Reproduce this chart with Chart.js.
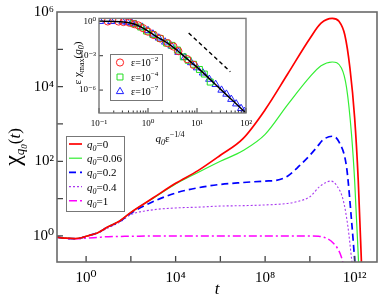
<!DOCTYPE html>
<html><head><meta charset="utf-8">
<script src="https://cdn.jsdelivr.net/npm/chart.js@4.4.1/dist/chart.umd.min.js"></script>
<style>
html,body{margin:0;padding:0;background:#fff;overflow:hidden;}
#wrap{position:relative;width:388px;height:300px;background:#fff;}
canvas{position:absolute;display:block;}
#main{left:0;top:0;width:388px;height:300px;}
#inset{left:60px;top:10px;width:198px;height:140px;}
</style></head><body>
<div id="wrap"><canvas id="main" width="388" height="300"></canvas><canvas id="inset" width="198" height="140"></canvas></div>
<script>
// ---------------- data (main panel) ----------------
const q0Values = ['0', '0.06', '0.2', '0.4', '1'];

const tQ0   = [0.05, 0.126, 0.316, 0.631, 1, 3.16, 10, 31.6, 100, 1e3, 1e4, 1e5, 1e6, 1e7, 1e8, 1e9, 1e10, 3.16e10, 1e11, 2e11, 3.63e11, 6.17e11, 1e12, 1.45e12, 2.1e12];
const chiQ0 = [0.923, 0.871, 0.851, 0.891, 0.977, 1.20, 1.78, 2.51, 4.27, 10.5, 25.7, 56.2, 145, 398, 2400, 21400, 195000, 501000, 676000, 562000, 245000, 31600, 1480, 30.9, 0.1];

const tQ006   = [0.05, 0.126, 0.316, 0.631, 1, 3.16, 10, 31.6, 100, 1e3, 1e4, 1e5, 1e6, 1e7, 1e8, 1e9, 1e10, 3.16e10, 1e11, 2.57e11, 4.37e11, 7.24e11, 1e12, 1.58e12];
const chiQ006 = [0.923, 0.871, 0.851, 0.891, 0.977, 1.20, 1.78, 2.51, 4.27, 10.2, 24.5, 50.1, 100, 191, 525, 3240, 18200, 36300, 45700, 31600, 9330, 537, 30.9, 0.1];

const tQ02   = [0.05, 0.126, 0.316, 0.631, 1, 3.16, 10, 31.6, 100, 1e3, 1e4, 1e5, 1e6, 1e7, 1e8, 3.16e8, 1e9, 3.55e9, 1e10, 2e10, 3.98e10, 1e11, 2e11, 4.37e11, 7.24e11, 1.12e12];
const chiQ02 = [0.923, 0.871, 0.851, 0.891, 0.977, 1.20, 1.78, 2.45, 4.07, 8.32, 14.1, 19.5, 24.0, 26.9, 29.5, 30.9, 39.8, 77.6, 145, 234, 380, 468, 331, 69.2, 2.69, 0.1];

const tQ04   = [0.05, 0.126, 0.316, 0.631, 1, 3.16, 10, 31.6, 100, 1e3, 1e4, 1e5, 1e6, 1e7, 1e8, 1e9, 3.16e9, 1e10, 2.82e10, 8.71e10, 1.58e11, 3.09e11, 5.01e11, 7.41e11, 8.91e11];
const chiQ04 = [0.923, 0.871, 0.851, 0.891, 0.977, 1.18, 1.66, 2.34, 3.72, 5.01, 5.62, 5.89, 6.31, 6.46, 6.76, 7.41, 8.51, 11.2, 21.4, 29.5, 22.4, 9.12, 1.78, 0.229, 0.1];

const tQ1   = [0.05, 0.2, 0.5, 1, 3.16, 10, 100, 1e4, 1e6, 1e8, 1e10, 2.51e10, 6.31e10, 1.1e11, 1.78e11, 2.51e11, 3.55e11];
const chiQ1 = [0.923, 0.84, 0.84, 0.871, 0.912, 0.955, 0.977, 1, 1, 1, 1, 0.977, 0.832, 0.646, 0.447, 0.282, 0.126];

const mainXTicks  = [1, 1e2, 1e4, 1e6, 1e8, 1e10, 1e12];
const mainXLabels = [1, 1e4, 1e8, 1e12];
const mainYTicks  = [1, 1e1, 1e2, 1e3, 1e4, 1e5];
const mainYLabels = [1, 1e2, 1e4, 1e6];

// ---------------- data (inset) ----------------
const epsExponents = ['−2', '−4', '−7'];
const masterX = [0.1, 0.2, 0.316, 0.501, 0.708, 1, 1.51, 2, 2.82, 3.98, 5.62, 7.94, 10, 17.8, 31.6, 56.2, 100];
const masterY = [1, 0.977, 0.891, 0.603, 0.331, 0.141, 0.0447, 0.0224, 0.00891, 0.00282, 7.94e-4, 2.24e-4, 1e-4, 1e-5, 1e-6, 1e-7, 1e-8];
const slopeX = [6.76, 47.9];
const slopeY = [0.0955, 3.98e-5];
const eps2X = [0.151, 0.251, 0.316, 0.417, 0.525, 0.631, 0.794, 1.0, 1.32, 1.78, 2.51, 3.31, 4.17, 6.31, 8.51];
const eps2Y = [0.977, 0.955, 0.871, 0.759, 0.562, 0.447, 0.251, 0.126, 0.0631, 0.0316, 0.0126, 0.00631, 0.00251, 5.01e-4, 1.58e-4];
const eps4X = [0.501, 0.708, 0.933, 1.26, 1.78, 2.4, 3.09, 3.98, 5.25, 6.61, 8.51, 11.2, 14.1, 18.6];
const eps4Y = [0.631, 0.316, 0.141, 0.0708, 0.0316, 0.0126, 0.00794, 0.00316, 7.94e-4, 3.98e-4, 1.78e-4, 6.31e-5, 2.51e-5, 5.01e-6];
const eps7X = [0.105, 0.178, 0.302, 0.38, 0.468, 0.562, 0.759, 1.0, 1.26, 1.66, 2.24, 3.02, 4.17, 5.62, 7.59, 10, 13.2, 17.8, 24, 31.6, 39.8, 50.1, 63.1, 79.4, 93.3];
const eps7Y = [1.0, 0.977, 0.933, 0.832, 0.708, 0.562, 0.316, 0.158, 0.0794, 0.0355, 0.0158, 0.00708, 0.002, 7.08e-4, 2.51e-4, 8.91e-5, 3.16e-5, 8.91e-6, 3.16e-6, 1e-6, 4.47e-7, 1.58e-7, 6.31e-8, 2.51e-8, 1.41e-8];
const insetXTicks = [0.1, 1, 10, 100];
const insetYTicks = [1, 1e-3, 1e-6];

// ---------------- helpers ----------------
const SERIF = '"Liberation Serif", "Times New Roman", "DejaVu Serif", serif';
const SUP = {'0':'⁰','1':'¹','2':'²','3':'³','4':'⁴','5':'⁵','6':'⁶','7':'⁷','8':'⁸','9':'⁹','-':'⁻'};
const expLabel = v => '10' + String(Math.round(Math.log10(v))).split('').map(c => SUP[c] || c).join('');
const pts = (xs, ys) => xs.map((x, i) => ({x: x, y: ys[i]}));

function drawRich(ctx, parts, x, y, center) {
  let w = 0;
  for (const p of parts) { ctx.font = p[1]; w += ctx.measureText(p[0]).width; }
  let cx = center ? x - w / 2 : x;
  for (const p of parts) { ctx.font = p[1]; ctx.fillText(p[0], cx, y + (p[2] || 0)); cx += ctx.measureText(p[0]).width; }
}

// ---------------- main chart ----------------
const mainSeries = [
  {q0: q0Values[0], t: tQ0,   chi: chiQ0,   color: '#ff0000', width: 1.7, dash: []},
  {q0: q0Values[1], t: tQ006, chi: chiQ006, color: '#33ee33', width: 1.2, dash: []},
  {q0: q0Values[2], t: tQ02,  chi: chiQ02,  color: '#0000ff', width: 1.7, dash: [7, 4]},
  {q0: q0Values[3], t: tQ04,  chi: chiQ04,  color: '#a838f0', width: 1.1, dash: [2, 2]},
  {q0: q0Values[4], t: tQ1,   chi: chiQ1,   color: '#ff00ff', width: 1.5, dash: [8, 3, 2, 3]}
];

const mainDecor = {
  id: 'mainDecor',
  afterDraw(chart) {
    const {ctx, chartArea: a, scales: {x, y}} = chart;
    ctx.save();
    ctx.strokeStyle = '#444'; ctx.lineWidth = 1.3; ctx.setLineDash([]);
    ctx.beginPath();
    for (const v of mainXTicks) { const px = x.getPixelForValue(v); ctx.moveTo(px, a.bottom); ctx.lineTo(px, a.bottom - 6); }
    for (const v of mainYTicks) { const py = y.getPixelForValue(v); ctx.moveTo(a.left, py); ctx.lineTo(a.left + 6, py); }
    ctx.stroke();
    ctx.strokeStyle = '#6a6a6a'; ctx.lineWidth = 1.6;
    ctx.strokeRect(a.left, a.top, a.right - a.left, a.bottom - a.top);
    ctx.fillStyle = '#000'; ctx.textBaseline = 'alphabetic'; ctx.textAlign = 'left';
    ctx.save();
    ctx.translate(20, 147); ctx.rotate(-Math.PI / 2);
    drawRich(ctx, [
      ['χ', `24px ${SERIF}`, 0],
      ['q', `italic 13px ${SERIF}`, 4],
      ['0', `italic 9px ${SERIF}`, 7],
      ['(', `17px ${SERIF}`, 0],
      ['t', `italic 17px ${SERIF}`, 0],
      [')', `17px ${SERIF}`, 0]
    ], 0, 0, true);
    ctx.restore();
    const bx = 66, by = 136, bw = 58, bh = 75;
    ctx.fillStyle = '#fff'; ctx.fillRect(bx, by, bw, bh);
    ctx.strokeStyle = '#777'; ctx.lineWidth = 1; ctx.strokeRect(bx + 0.5, by + 0.5, bw, bh);
    mainSeries.forEach((s, i) => {
      const ry = 144 + i * 14.2;
      ctx.strokeStyle = s.color; ctx.lineWidth = s.width; ctx.setLineDash(s.dash);
      ctx.beginPath(); ctx.moveTo(69, ry); ctx.lineTo(82, ry); ctx.stroke();
      ctx.setLineDash([]);
      ctx.fillStyle = '#000';
      drawRich(ctx, [
        ['q', `italic 11px ${SERIF}`, 0],
        ['0', `italic 8px ${SERIF}`, 3],
        ['=' + s.q0, `11px ${SERIF}`, 0]
      ], 87, ry + 4, false);
    });
    ctx.restore();
  }
};

new Chart(document.getElementById('main'), {
  type: 'line',
  data: {
    datasets: mainSeries.map(s => ({
      label: 'q0=' + s.q0,
      data: pts(s.t, s.chi),
      borderColor: s.color, borderWidth: s.width, borderDash: s.dash,
      pointRadius: 0, fill: false, cubicInterpolationMode: 'monotone'
    }))
  },
  options: {
    responsive: false, animation: false, devicePixelRatio: 1, events: [],
    layout: {padding: {top: 10, right: 11, left: 0, bottom: 0}},
    plugins: {legend: {display: false}, tooltip: {enabled: false}},
    scales: {
      x: {
        type: 'logarithmic', min: 0.05, max: 1e13,
        afterBuildTicks: s => { s.ticks = mainXLabels.map(v => ({value: v})); },
        afterFit: s => { s.height = 38; },
        grid: {display: false, drawTicks: false}, border: {display: false},
        ticks: {callback: v => expLabel(v), font: {family: SERIF, size: 15}, color: '#000', padding: 7, maxRotation: 0, autoSkip: false},
        title: {display: true, text: 't', font: {family: SERIF, size: 17, style: 'italic'}, color: '#000', padding: 0}
      },
      y: {
        type: 'logarithmic', min: 0.2, max: 1e6,
        afterBuildTicks: s => { s.ticks = mainYLabels.map(v => ({value: v})); },
        afterFit: s => { s.width = 57; },
        grid: {display: false, drawTicks: false}, border: {display: false},
        ticks: {callback: v => expLabel(v), font: {family: SERIF, size: 15}, color: '#000', padding: 3, autoSkip: false}
      }
    }
  },
  plugins: [mainDecor]
});

// ---------------- inset chart ----------------
const insetMarkers = [
  {exp: epsExponents[0], xs: eps2X, ys: eps2Y, color: '#ff2020', style: 'circle',   r: 3.6},
  {exp: epsExponents[1], xs: eps4X, ys: eps4Y, color: '#22dd22', style: 'rect',     r: 4.2},
  {exp: epsExponents[2], xs: eps7X, ys: eps7Y, color: '#2020ff', style: 'triangle', r: 4.2}
];

function drawMarker(ctx, style, r, x, y) {
  ctx.beginPath();
  if (style === 'circle') { ctx.arc(x, y, r, 0, Math.PI * 2); }
  else if (style === 'rect') { const h = r * Math.SQRT1_2; ctx.rect(x - h, y - h, 2 * h, 2 * h); }
  else { ctx.moveTo(x, y - r); ctx.lineTo(x + r * 0.866, y + r * 0.5); ctx.lineTo(x - r * 0.866, y + r * 0.5); ctx.closePath(); }
  ctx.stroke();
}

const insetDecor = {
  id: 'insetDecor',
  beforeDatasetsDraw(chart) {
    const {ctx, chartArea: a} = chart;
    ctx.save(); ctx.fillStyle = '#fff'; ctx.fillRect(a.left, a.top, a.right - a.left, a.bottom - a.top); ctx.restore();
  },
  afterDraw(chart) {
    const {ctx, chartArea: a, scales: {x, y}} = chart;
    ctx.save();
    ctx.strokeStyle = '#333'; ctx.lineWidth = 1; ctx.setLineDash([]);
    ctx.beginPath();
    for (const v of insetXTicks) { const px = x.getPixelForValue(v); ctx.moveTo(px, a.bottom); ctx.lineTo(px, a.bottom - 5); }
    for (let k = -1; k < 2; k++) {
      for (let m = 2; m < 10; m++) { const px = x.getPixelForValue(m * Math.pow(10, k)); ctx.moveTo(px, a.bottom); ctx.lineTo(px, a.bottom - 2.5); }
    }
    for (const v of insetYTicks) { const py = y.getPixelForValue(v); ctx.moveTo(a.left, py); ctx.lineTo(a.left + 4, py); }
    ctx.stroke();
    ctx.strokeStyle = '#777'; ctx.lineWidth = 1.4;
    ctx.strokeRect(a.left, a.top, a.right - a.left, a.bottom - a.top);
    ctx.fillStyle = '#000'; ctx.textBaseline = 'alphabetic'; ctx.textAlign = 'left';
    drawRich(ctx, [
      ['q', `italic 11px ${SERIF}`, 0],
      ['0', `italic 8px ${SERIF}`, 3],
      ['ε', `11px ${SERIF}`, 0],
      ['−1/4', `8px ${SERIF}`, -5]
    ], 110, 132, true);
    ctx.save();
    ctx.translate(21, 53); ctx.rotate(-Math.PI / 2);
    drawRich(ctx, [
      ['ε χ', `11px ${SERIF}`, 0],
      ['max', `8px ${SERIF}`, 3],
      ['(', `11px ${SERIF}`, 0],
      ['q', `italic 11px ${SERIF}`, 0],
      ['0', `italic 8px ${SERIF}`, 3],
      [')', `11px ${SERIF}`, 0]
    ], 0, 0, true);
    ctx.restore();
    const bx = 50, by = 44, bw = 52, bh = 46;
    ctx.fillStyle = '#fff'; ctx.fillRect(bx, by, bw, bh);
    ctx.strokeStyle = '#777'; ctx.lineWidth = 1; ctx.strokeRect(bx + 0.5, by + 0.5, bw, bh);
    insetMarkers.forEach((mk, i) => {
      const ry = 52.5 + i * 14.5;
      ctx.strokeStyle = mk.color; ctx.lineWidth = 1;
      drawMarker(ctx, mk.style, mk.r, 60, ry);
      ctx.fillStyle = '#000';
      drawRich(ctx, [
        ['ε=10', `10px ${SERIF}`, 0],
        [mk.exp, `7px ${SERIF}`, -5]
      ], 71, ry + 3.5, false);
    });
    ctx.restore();
  }
};

new Chart(document.getElementById('inset'), {
  type: 'scatter',
  data: {
    datasets: [
      {type: 'line', label: 'master', data: pts(masterX, masterY), borderColor: '#000', borderWidth: 1.5, pointRadius: 0, fill: false, cubicInterpolationMode: 'monotone'},
      {type: 'line', label: 'slope', data: pts(slopeX, slopeY), borderColor: '#000', borderWidth: 1.4, borderDash: [4, 3], pointRadius: 0, fill: false}
    ].concat(insetMarkers.map(mk => ({
      label: 'ε=10' + mk.exp, data: pts(mk.xs, mk.ys), showLine: false,
      pointStyle: mk.style, pointRadius: mk.r, borderColor: mk.color, backgroundColor: 'rgba(0,0,0,0)', borderWidth: 1
    })))
  },
  options: {
    responsive: false, animation: false, devicePixelRatio: 1, events: [],
    layout: {padding: {top: 6, right: 12, left: 0, bottom: 0}},
    plugins: {legend: {display: false}, tooltip: {enabled: false}},
    scales: {
      x: {
        type: 'logarithmic', min: 0.1, max: 100,
        afterBuildTicks: s => { s.ticks = insetXTicks.map(v => ({value: v})); },
        afterFit: s => { s.height = 37; },
        grid: {display: false, drawTicks: false}, border: {display: false},
        ticks: {callback: v => expLabel(v), font: {family: SERIF, size: 9}, color: '#000', padding: 5, maxRotation: 0, autoSkip: false}
      },
      y: {
        type: 'logarithmic', min: 1e-8, max: 1.8,
        afterBuildTicks: s => { s.ticks = insetYTicks.map(v => ({value: v})); },
        afterFit: s => { s.width = 39; },
        grid: {display: false, drawTicks: false}, border: {display: false},
        ticks: {callback: v => expLabel(v), font: {family: SERIF, size: 9}, color: '#000', padding: 3, autoSkip: false}
      }
    }
  },
  plugins: [insetDecor]
});
</script></body></html>
